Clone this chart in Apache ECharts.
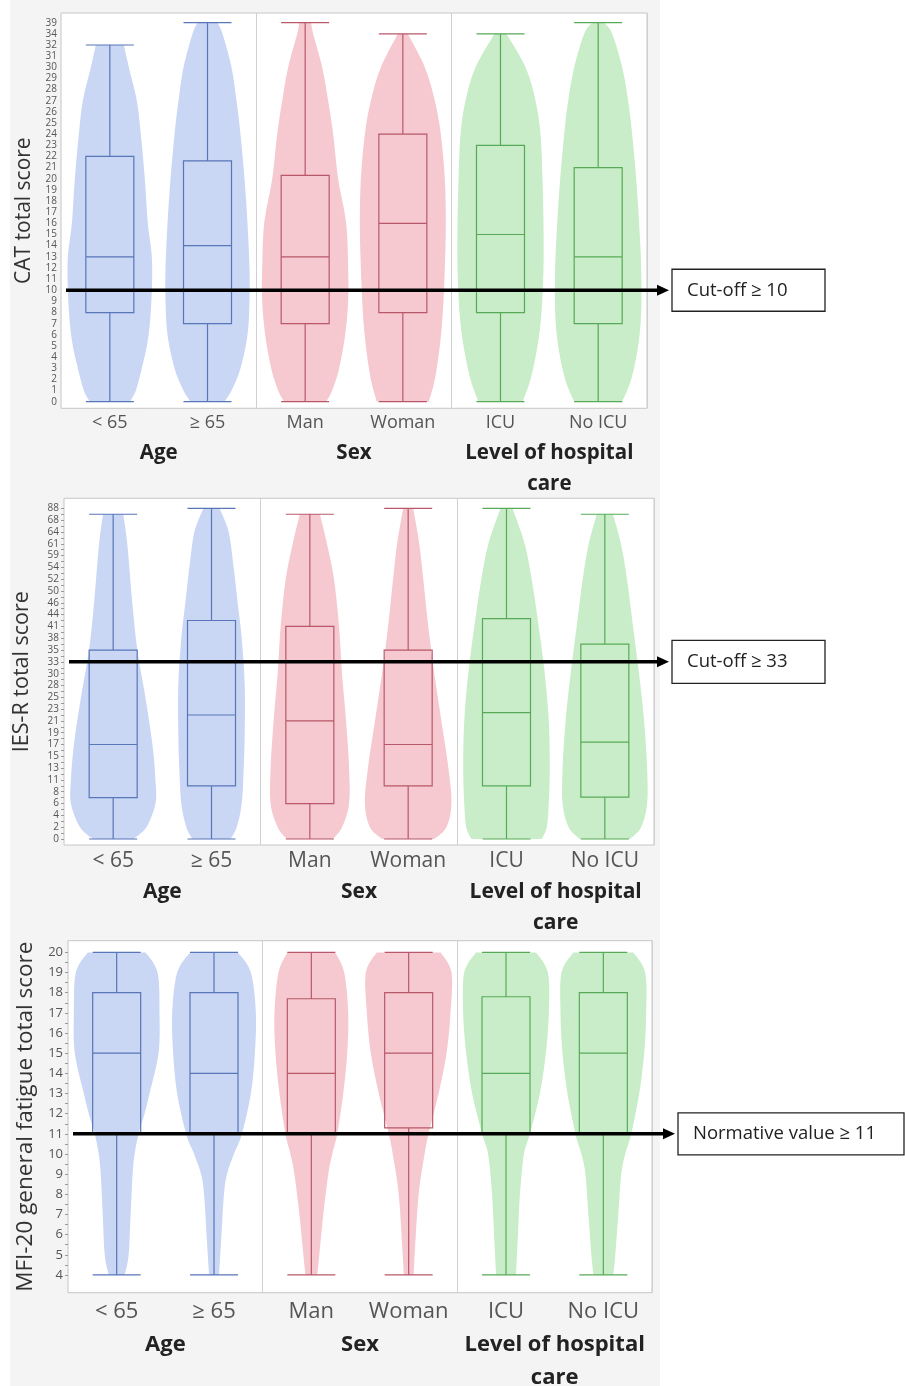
<!DOCTYPE html>
<html><head><meta charset="utf-8">
<script src="https://cdn.jsdelivr.net/npm/echarts@6/dist/echarts.min.js"></script>
<style>
html,body{margin:0;padding:0;background:#fff;}
#c{width:905px;height:1386px;background:linear-gradient(to right,#fff 0,#fff 10px,#f4f4f4 10px,#f4f4f4 660px,#fff 660px);}
</style></head>
<body><div id="c"></div>
<script>
// ---------------- DATA ----------------
const categories = ['< 65', '≥ 65', 'Man', 'Woman', 'ICU', 'No ICU'];
const groupLabels = ['Age', 'Sex', 'Level of hospital\ncare'];

// tick labels (evenly spaced on the original axes)
const catTicks = [0,1,2,3,4,5,6,7,8,9,10,11,12,13,14,15,16,17,18,19,20,21,22,23,24,25,26,27,28,29,30,31,32,34,39];
const iesTicks = [0,2,4,6,8,11,13,15,17,19,21,23,25,28,30,33,35,38,41,44,46,50,52,54,59,61,64,68,88];
const mfiTicks = [4,5,6,7,8,9,10,11,12,13,14,15,16,17,18,19,20];

// box plots: [min, Q1, median, Q3, max]
const catBoxes = [[0,8,13,22,32],[0,7,14,21.6,39],[0,7,13,20.3,39],[0,8,16,24,34],[0,8,15,23,34],[0,7,13,21,39]];
const iesBoxes = [[0,7,17,35,78],[0,9.5,22,42.5,88],[0,6,21,41,78],[0,9.5,17,35,88],[0,9.5,22.4,43,88],[0,7.1,17.4,36.5,78]];
const mfiBoxes = [[4,11,15,18,20],[4,11,14,18,20],[4,11,14,17.7,20],[4,11.3,15,18,20],[4,11,14,17.8,20],[4,11,15,18,20]];

// violin profiles: levels (score) and relative density (max 43)
const catViolinLevels = [
  [0,1,3,5,7,10,13,16,20,24,27,30,32],
  [0,1,3,6,9,12,16,20,24,27,30,34,39],
  [0,1,3,6,9,12,16,20,24,27,30,34,39],
  [0,2,5,8,12,16,20,24,27,30,34],
  [0,2,5,8,12,16,20,24,27,30,34],
  [0,2,5,8,12,16,20,24,27,30,34,39]
];
const catViolinDensity = [
  [20,26,32,37,40,42,42,38,35,31,27,19,14],
  [17,24,33,40,42,42,40,37,33,29,24,15,10],
  [21,27,34,40,43,43,41,33,28,23,17,8,6],
  [26,32,37,40,42,43,42,38,32,22,5],
  [22,30,37,41,43,43,42,40,35,25,6],
  [24,33,40,43,43,41,38,34,30,24,14,6]
];
const iesViolinLevels = [
  [0,2,6,11,17,25,35,46,61,78],
  [0,2,6,13,19,28,38,46,54,64,88],
  [0,2,6,13,21,30,41,52,61,78],
  [0,2,6,13,21,30,41,52,61,88],
  [0,2,6,13,21,30,41,52,61,88],
  [0,2,6,13,21,30,41,52,61,78]
];
const iesViolinDensity = [
  [20,33,42,42,39,32,24,19,14,10],
  [19,25,30,32,33,33,30,26,22,17,8],
  [23,32,39,39,36,32,29,24,17,10],
  [26,38,43,40,33,26,20,15,11,5],
  [35,40,42,43,42,38,32,25,18,6],
  [25,36,42,42,39,34,28,22,16,8]
];
const mfiViolinLevels = [
  [4,5,7,9,10,11,12,13,15,17,19,20],
  [4,6,8,9,10,11,13,15,17,19,20],
  [4,5,7,9,10,11,13,15,17,19,20],
  [4,5,8,10,11,13,15,17,19,20],
  [4,6,8,10,11,13,15,17,19,20],
  [4,5,7,9,10,11,13,15,17,19,20]
];
const mfiViolinDensity = [
  [8,12,14,16,18,22,28,33,42,43,41,29],
  [5,7.5,10,13,20,28,37,41,42,37,24],
  [6,8,12,17,21,26,32,36,37,33,24],
  [5,6,10,16,20,30,38,42,43,32],
  [10,12,14,18,24,34,40,43,42,30],
  [10,12,15,18,22,28,36,41,43,42,30]
];

const axisNames = ['CAT total score', 'IES-R total score', 'MFI-20 general fatigue total score'];
const cutoffs = [10, 33, 11];
const cutoffTexts = ['Cut-off ≥ 10', 'Cut-off ≥ 33', 'Normative value ≥ 11'];

// ---------------- STYLE / LAYOUT ----------------
const fills = ['#c9d6f4','#c9d6f4','#f5c9cf','#f5c9cf','#c8edc8','#c8edc8'];
const strokes = ['#5876b8','#5876b8','#b8586a','#b8586a','#58aa58','#58aa58'];
const FONT = '"Open Sans", "Noto Sans", sans-serif';

const panels = [
  {ticks: catTicks, boxes: catBoxes, lv: catViolinLevels, dn: catViolinDensity,
   grid: {left: 61, top: 13, width: 586, height: 395.3}, ymin: -0.59, ymax: 34.87,
   tickFont: 10, catFont: 18, catMargin: 6, nameFont: 21, nameGap: 25, showTicks: false,
   groupY: 453, groupFont: 20.5, lineH: 31, box: {x: 672, w: 153, h: 42}, textFont: 18.5},
  {ticks: iesTicks, boxes: iesBoxes, lv: iesViolinLevels, dn: iesViolinDensity,
   grid: {left: 64, top: 498.3, width: 590, height: 346.7}, ymin: -0.51, ymax: 28.85,
   tickFont: 10, catFont: 21, catMargin: 6, nameFont: 21.5, nameGap: 31, showTicks: true,
   groupY: 892, groupFont: 21, lineH: 31, box: {x: 672, w: 153, h: 43}, textFont: 18.5},
  {ticks: mfiTicks, boxes: mfiBoxes, lv: mfiViolinLevels, dn: mfiViolinDensity,
   grid: {left: 68, top: 940.7, width: 584, height: 352}, ymin: -0.88, ymax: 16.58,
   tickFont: 13, catFont: 22, catMargin: 8, nameFont: 22.5, nameGap: 26, showTicks: true,
   groupY: 1345, groupFont: 22, lineH: 33, box: {x: 678, w: 226, h: 42}, textFont: 18.5}
];

// map a score onto the (evenly spaced) tick-label position
function toPos(v, ticks) {
  if (v <= ticks[0]) return 0;
  for (let i = 1; i < ticks.length; i++) {
    if (v <= ticks[i]) return i - 1 + (v - ticks[i - 1]) / (ticks[i] - ticks[i - 1]);
  }
  return ticks.length - 1;
}
// Catmull-Rom smoothing of the profile for drawing
function smoothProfile(ys, ws, steps) {
  const out = [];
  const n = ys.length;
  for (let i = 0; i < n - 1; i++) {
    const p0 = i > 0 ? i - 1 : i, p3 = i + 2 < n ? i + 2 : i + 1;
    for (let s = 0; s < steps; s++) {
      const t = s / steps, t2 = t * t, t3 = t2 * t;
      const cr = (a, b, c, d) => 0.5 * ((2 * b) + (-a + c) * t + (2 * a - 5 * b + 4 * c - d) * t2 + (-a + 3 * b - 3 * c + d) * t3);
      out.push([cr(ys[p0], ys[i], ys[i + 1], ys[p3]), Math.max(0, cr(ws[p0], ws[i], ws[i + 1], ws[p3]))]);
    }
  }
  out.push([ys[n - 1], ws[n - 1]]);
  return out;
}

const grids = [], xAxes = [], yAxes = [], series = [];
panels.forEach((p, k) => {
  grids.push(Object.assign({show: true, backgroundColor: '#ffffff', borderColor: '#c6c6c6', borderWidth: 1}, p.grid));
  xAxes.push({
    type: 'category', gridIndex: k, data: categories,
    axisLine: {show: false}, axisTick: {show: false},
    axisLabel: {interval: 0, hideOverlap: false, fontSize: p.catFont, color: '#555', fontFamily: FONT, margin: p.catMargin},
    splitLine: {show: true, interval: (i) => i === 2 || i === 4, lineStyle: {color: '#d0d0d0', width: 1}}
  });
  const labelVals = p.ticks.map((t, i) => i);
  const tickVals = [];
  for (let i = 0; i < p.ticks.length; i++) { tickVals.push(i); if (i < p.ticks.length - 1) tickVals.push(i + 0.5); }
  yAxes.push({
    type: 'value', gridIndex: k, min: p.ymin, max: p.ymax,
    name: axisNames[k], nameLocation: 'middle', nameGap: p.nameGap,
    nameTextStyle: {fontSize: p.nameFont, color: '#333', fontFamily: FONT},
    axisLine: {show: false},
    axisTick: {show: p.showTicks, customValues: tickVals, length: 3, lineStyle: {color: '#999'}},
    axisLabel: {customValues: labelVals, fontSize: p.tickFont, color: '#555', fontFamily: FONT,
      margin: p.showTicks ? 5 : 4, formatter: (v) => String(p.ticks[Math.round(v)])},
    splitLine: {show: false}
  });
  // violins
  series.push({
    type: 'custom', xAxisIndex: k, yAxisIndex: k, z: 1, silent: true,
    data: p.lv.map((lv, i) => [i, toPos(lv[0], p.ticks)]),
    encode: {x: 0, y: 1},
    renderItem: function (params, api) {
      const i = params.dataIndex;
      const band = api.size([1, 0])[0];
      const maxHalf = band * 0.44;
      const cx = api.coord([i, 0])[0];
      const prof = smoothProfile(p.lv[i].map(v => toPos(v, p.ticks)), p.dn[i], 10);
      const left = [], right = [];
      prof.forEach(([yp, w]) => {
        const y = api.coord([i, yp])[1];
        const hw = w / 43 * maxHalf;
        left.push([cx - hw, y]);
        right.push([cx + hw, y]);
      });
      return {type: 'polygon', shape: {points: left.concat(right.reverse())},
        style: {fill: fills[i], stroke: null}};
    }
  });
  // box plots
  series.push({
    type: 'boxplot', xAxisIndex: k, yAxisIndex: k, z: 3, silent: true,
    boxWidth: [48, 48],
    data: p.boxes.map((b, i) => ({value: b.map(v => toPos(v, p.ticks)),
      itemStyle: {color: 'rgba(0,0,0,0)', borderColor: strokes[i], borderWidth: 1.2}})),
    emphasis: {disabled: true}
  });
});

const chart = echarts.init(document.getElementById('c'), null, {renderer: 'canvas'});
chart.setOption({animation: false, backgroundColor: 'transparent', grid: grids, xAxis: xAxes, yAxis: yAxes, series: series});

// annotations: group labels, cut-off arrows and boxes
const graphics = [];
panels.forEach((p, k) => {
  for (let g = 0; g < 3; g++) {
    const x1 = chart.convertToPixel({xAxisIndex: k}, categories[g * 2]);
    const x2 = chart.convertToPixel({xAxisIndex: k}, categories[g * 2 + 1]);
    const lines = groupLabels[g].split('\n');
    lines.forEach((ln, j) => {
      graphics.push({type: 'text', x: (x1 + x2) / 2, y: p.groupY + j * p.lineH,
        style: {text: ln, fontSize: p.groupFont, fontWeight: 'bold', fill: '#222', fontFamily: FONT,
          align: 'center', verticalAlign: 'middle'}});
    });
  }
  const y = chart.convertToPixel({yAxisIndex: k}, toPos(cutoffs[k], p.ticks));
  const xs = p.grid.left + 5, xe = p.box.x - 3;
  graphics.push({type: 'line', shape: {x1: xs, y1: y, x2: xe - 10, y2: y}, style: {stroke: '#000', lineWidth: 3.5}, z: 50});
  graphics.push({type: 'polygon', shape: {points: [[xe - 12, y - 5.5], [xe, y], [xe - 12, y + 5.5]]}, style: {fill: '#000'}, z: 50});
  graphics.push({type: 'rect', shape: {x: p.box.x, y: y - p.box.h / 2, width: p.box.w, height: p.box.h},
    style: {fill: '#fff', stroke: '#222', lineWidth: 1.3}, z: 50});
  graphics.push({type: 'text', x: p.box.x + 15, y: y, z: 51,
    style: {text: cutoffTexts[k], fontSize: p.textFont, fill: '#222', fontFamily: FONT, verticalAlign: 'middle'}});
});
chart.setOption({graphic: graphics});
</script>
</body></html>
